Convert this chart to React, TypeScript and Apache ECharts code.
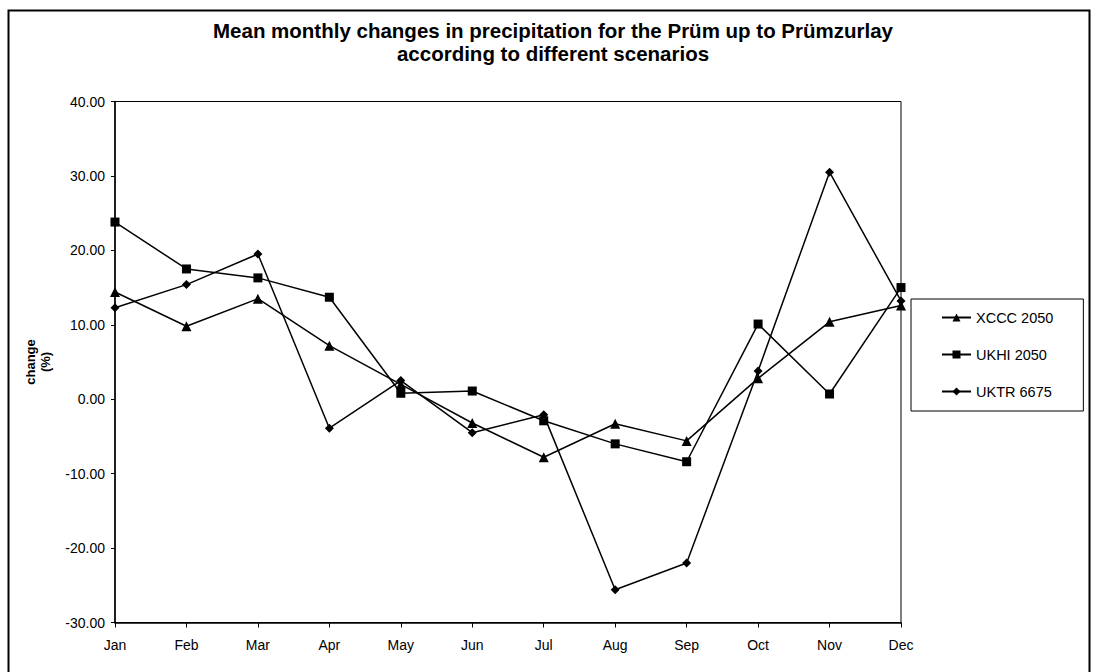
import React, { useEffect, useRef } from "react";
import * as echarts from "echarts";

const months = ["Jan", "Feb", "Mar", "Apr", "May", "Jun", "Jul", "Aug", "Sep", "Oct", "Nov", "Dec"];
const xccc2050 = [14.4, 9.8, 13.5, 7.2, 2.0, -3.2, -7.8, -3.3, -5.6, 2.8, 10.4, 12.6];
const ukhi2050 = [23.8, 17.5, 16.3, 13.7, 0.8, 1.1, -2.9, -6.0, -8.4, 10.1, 0.7, 15.0];
const uktr6675 = [12.3, 15.4, 19.5, -3.9, 2.5, -4.5, -2.1, -25.6, -22.0, 3.8, 30.5, 13.2];
const seriesNames = ["XCCC 2050", "UKHI 2050", "UKTR 6675"];
const yTicks = { min: -30, max: 40, interval: 10 };

export default function App() {
  const ref = useRef<HTMLDivElement>(null);
  useEffect(() => {
    if (!ref.current) return;
    const chart = echarts.init(ref.current, null, { renderer: "svg" });
    const font = "Liberation Sans, Arial, sans-serif";
    const mkSeries = (name: string, data: number[], symbol: string, size: number) => ({
      name,
      type: "line",
      data,
      symbol,
      symbolSize: size,
      showAllSymbol: true,
      lineStyle: { color: "#000", width: 1.5 },
      itemStyle: { color: "#000", borderColor: "#000", borderWidth: 0 },
      emphasis: { disabled: true },
    });
    chart.setOption({
      animation: false,
      backgroundColor: "#fff",
      textStyle: { fontFamily: font, color: "#000" },
      title: {
        text: "Mean monthly changes in precipitation for the Prüm up to Prümzurlay\naccording to different scenarios",
        left: 548,
        top: 14,
        textAlign: "center",
        textStyle: { fontFamily: font, fontSize: 20.5, fontWeight: "bold", color: "#000", lineHeight: 23 },
      },
      grid: { left: 115, right: 195, top: 101.5, bottom: 49.5, show: true, borderColor: "#000", borderWidth: 1, backgroundColor: "transparent" },
      legend: {
        orient: "vertical",
        left: 911,
        top: 299,
        data: seriesNames,
        itemWidth: 29,
        itemHeight: 10,
        itemGap: 22,
        padding: [11, 30, 12, 30],
        borderColor: "#000",
        borderWidth: 1,
        textStyle: { fontFamily: font, fontSize: 14.5, color: "#000" },
      },
      xAxis: {
        type: "category",
        data: months,
        boundaryGap: false,
        axisLine: { onZero: false, lineStyle: { color: "#000", width: 1.5 } },
        axisTick: { show: true, inside: false, length: 5, alignWithLabel: true, lineStyle: { color: "#000" } },
        axisLabel: { fontFamily: font, fontSize: 14, color: "#000", margin: 15 },
        splitLine: { show: false },
      },
      yAxis: {
        type: "value",
        min: yTicks.min,
        max: yTicks.max,
        interval: yTicks.interval,
        name: "change\n(%)",
        nameLocation: "middle",
        nameGap: 62,
        nameRotate: 90,
        nameTextStyle: { fontFamily: font, fontSize: 13, fontWeight: "bold", color: "#000", lineHeight: 15 },
        axisLine: { show: true, lineStyle: { color: "#000", width: 1.5 } },
        axisTick: { show: true, length: 4, lineStyle: { color: "#000" } },
        axisLabel: { fontFamily: font, fontSize: 14, color: "#000", margin: 10, formatter: (v: number) => v.toFixed(2) },
        splitLine: { show: false },
      },
      graphic: [
        {
          type: "rect",
          shape: { x: 8.5, y: 10.5, width: 1081, height: 700 },
          style: { fill: "none", stroke: "#000", lineWidth: 2 },
          silent: true,
          z: -1,
        },
      ],
      series: [
        mkSeries(seriesNames[0], xccc2050, "triangle", 10),
        mkSeries(seriesNames[1], ukhi2050, "rect", 9),
        mkSeries(seriesNames[2], uktr6675, "diamond", 9),
      ],
    });
    return () => chart.dispose();
  }, []);
  return <div ref={ref} style={{ width: 1096, height: 672, position: "absolute", left: 0, top: 0 }} />;
}
